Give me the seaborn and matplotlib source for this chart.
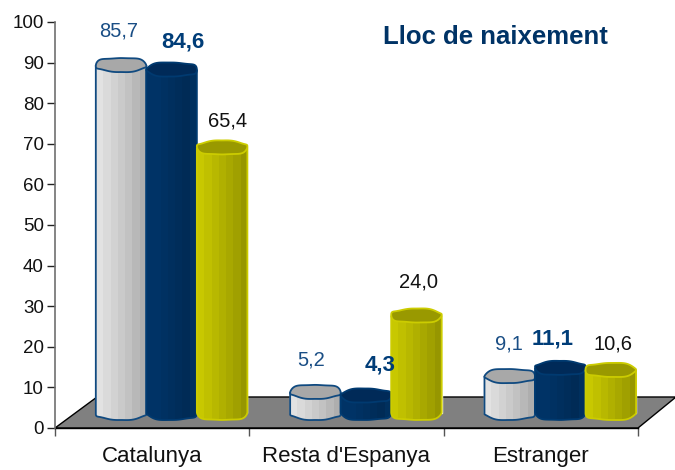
import numpy as np
import pandas as pd
import matplotlib
matplotlib.use("Agg")
import matplotlib.pyplot as plt
from matplotlib.patches import Polygon
from matplotlib.colors import to_rgb
import seaborn as sns

categories = ["Catalunya", "Resta d'Espanya", "Estranger"]
series_names = ["A", "B", "C"]
values_a = [85.7, 5.2, 9.1]
values_b = [84.6, 4.3, 11.1]
values_c = [65.4, 24.0, 10.6]
y_ticks = list(range(0, 101, 10))
title = "Lloc de naixement"

sns.set_theme(style="white")
plt.rcParams["font.family"] = ["Liberation Sans", "DejaVu Sans"]

W, H = 675, 470
fig = plt.figure(figsize=(W / 100, H / 100), dpi=100)
L, R, T, B = 55, 638, 22, 428
ax = fig.add_axes([L / W, 1 - B / H, (R - L) / W, (B - T) / H])
ax.patch.set_alpha(0)

shift = 0.1
df = pd.DataFrame({
    "pos": np.tile(np.arange(3) + shift, 3),
    "value": values_a + values_b + values_c,
    "series": np.repeat(series_names, 3),
})
palette = {"A": "#c8c8c8", "B": "#003366", "C": "#b4b400"}
sns.barplot(data=df, x="pos", y="value", hue="series", hue_order=series_names,
            palette=palette, saturation=1, native_scale=True, width=0.78, dodge=True,
            legend=False, ax=ax, zorder=3, errorbar=None)

PX = 1 / ((R - L) / 3)
PY = 100 / (B - T)
base = 3.7

styles = {
    "A": dict(stripes=["#e2e2e2", "#dadada", "#d2d2d2", "#cacaca", "#c2c2c2", "#b8b8b8", "#aeaeae"],
              top="#a8a8a8", edge="#104a80"),
    "B": dict(stripes=["#003366", "#003366", "#003162", "#002f5e", "#002d5a", "#002b56", "#00305e"],
              top="#002a58", edge="#003a70"),
    "C": dict(stripes=["#c8c800", "#c0c000", "#b8b800", "#b0b000", "#a8a800", "#a0a000", "#969600"],
              top="#999900", edge="#cccc00"),
}


def outline(cx, cy, a, b, phase, t):
    c, s = np.cos(t), np.sin(t)
    ex = 0.85
    x = cx + a * np.sign(c) * np.abs(c) ** ex
    y = cy + b * np.sign(s) * np.abs(s) ** ex + 0.16 * b * np.sin(4 * t + phase) * np.abs(c)
    return x, y


floor = Polygon([(-0.5, 0), (-0.5 + 42 * PX, 31 * PY), (-0.5 + 621 * PX, 31 * PY), (2.5, 0)],
                closed=True, facecolor="#808080", edgecolor="black", linewidth=1.0,
                clip_on=False, zorder=1)
ax.add_patch(floor)

items = []
for nm, cont in zip(series_names, ax.containers):
    for p in cont.patches:
        items.append((p.get_x(), nm, p))
items.sort(key=lambda r: r[0])

z = 4
for x_left, nm, p in items:
    style = styles[nm]
    p.set_y(base)
    x0, w, h = p.get_x(), p.get_width(), p.get_height()
    cx = x0 + w / 2
    a = w / 2
    b = 7 * PY
    ytop = base + h
    phase = x0 * 7.0
    tb = np.linspace(np.pi, 2 * np.pi, 60)
    bx, by = outline(cx, base, a, b, phase, tb)
    body = np.vstack([[x0, ytop], np.column_stack([bx, by]), [x0 + w, ytop]])
    poly = Polygon(body, closed=True, facecolor="none", edgecolor="none", zorder=z)
    ax.add_patch(poly)
    img = np.array([[to_rgb(c) for c in style["stripes"]]])
    im = ax.imshow(img, extent=[x0, x0 + w, base - 2 * b, ytop], aspect="auto",
                   interpolation="nearest", zorder=z + 0.1)
    im.set_clip_path(poly)
    ax.add_patch(Polygon(body, closed=False, fill=False, edgecolor=style["edge"], linewidth=1.3, zorder=z + 0.2))
    tt = np.linspace(0, 2 * np.pi, 120)
    ex, ey = outline(cx, ytop, a, b, phase, tt)
    ax.add_patch(Polygon(np.column_stack([ex, ey]), closed=True, facecolor=style["top"],
                         edgecolor=style["edge"], linewidth=1.3, zorder=z + 0.3))
    z += 1

ax.set_xlim(-0.5, 2.5)
ax.set_ylim(0, 100)
ax.set_xlabel("")
ax.set_ylabel("")
ax.set_yticks(y_ticks)
ax.set_yticklabels([str(t) for t in y_ticks], fontsize=13.5, color="#111111")
ax.set_xticks(range(3))
ax.set_xticklabels(categories, fontsize=16, color="#111111")
ax.set_xticks([-0.5, 0.5, 1.5, 2.5], minor=True)
ax.tick_params(axis="x", which="major", length=0, pad=13)
ax.tick_params(axis="x", which="minor", length=6, width=1, color="#555555", bottom=True)
ax.tick_params(axis="y", length=6, width=1, color="#222222", pad=2, left=True)
for s in ["top", "right"]:
    ax.spines[s].set_visible(False)
ax.spines["left"].set_color("#707070")
ax.spines["left"].set_linewidth(1.2)
ax.spines["bottom"].set_color("black")
ax.spines["bottom"].set_linewidth(1.0)
ax.spines["bottom"].set_zorder(2)

label_colors = {"A": "#1a4e85", "B": "#003d78", "C": "#111111"}
label_weight = {"A": "normal", "B": "bold", "C": "normal"}
label_size = {"A": 14.5, "B": 16, "C": 14.5}
label_px = {
    "A": [(119, 31), (311, 360), (509, 344)],
    "B": [(183, 42), (380, 365), (553, 339)],
    "C": [(228, 121), (419, 282), (613, 344)],
}
series_values = {"A": values_a, "B": values_b, "C": values_c}
for nm in series_names:
    for v, (px, py) in zip(series_values[nm], label_px[nm]):
        fig.text(px / W, 1 - py / H, f"{v:.1f}".replace(".", ","), ha="center", va="center",
                 color=label_colors[nm], fontweight=label_weight[nm], fontsize=label_size[nm], zorder=50)

fig.text(495 / W, 1 - 37 / H, title, ha="center", va="center", color="#003366",
         fontweight="bold", fontsize=18.5)

fig.savefig("out.png", dpi=100, facecolor="white")
